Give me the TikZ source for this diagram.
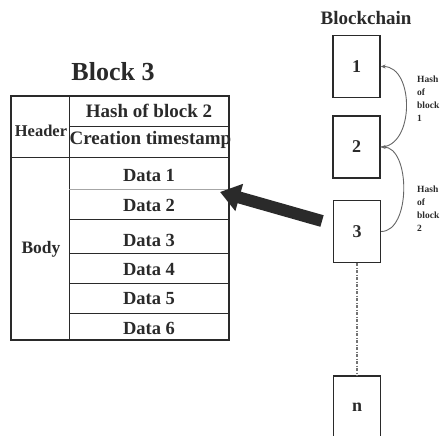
\documentclass[tikz,border=0pt]{standalone}
\usepackage{fontspec}
\setmainfont{Liberation Serif}
\usetikzlibrary{arrows.meta}
\definecolor{ink}{HTML}{2A2A2A}
\begin{document}
\begin{tikzpicture}[x=1pt,y=-1pt,
    cell/.style={font=\bfseries\fontsize{18.5}{20}\selectfont,text=ink,inner sep=0pt},
    blk/.style={draw=ink,line width=1.3pt,minimum width=47pt,minimum height=62pt,
      font=\bfseries\fontsize{18}{20}\selectfont,text=ink},
    hashlbl/.style={font=\bfseries\fontsize{9.5}{13}\selectfont,text=ink,align=left,
      anchor=north west,inner sep=0pt},
    link/.style={draw=black!60,line width=0.9pt,-{Stealth[length=5pt,width=4pt]}}]
  \clip (0,0) rectangle (443,435);
  % block 3
  \node[cell,font=\bfseries\fontsize{26}{28}\selectfont] (title) at (113,72) {Block 3};
  \draw[ink,line width=1.3pt] (11,96) rectangle (229,340);
  \draw[ink,line width=0.9pt] (69,96) -- (69,340);
  \draw[ink,line width=0.9pt] (11,157) -- (229,157);
  \draw[ink,line width=0.9pt] (69,126) -- (229,126);
  \draw[gray!70,line width=0.6pt] (69,189) -- (229,189);
  \foreach \y in {219,253,283,313}
    \draw[ink,line width=0.9pt] (69,\y) -- (229,\y);
  \node[cell,font=\bfseries\fontsize{16.5}{18}\selectfont] (header) at (41,131) {Header};
  \node[cell,font=\bfseries\fontsize{17.5}{18}\selectfont] (body) at (41,249) {Body};
  \node[cell,font=\bfseries\fontsize{19}{20}\selectfont] (hash) at (149,111) {Hash of block 2};
  \node[cell,font=\bfseries\fontsize{19}{20}\selectfont] (time) at (150.5,140) {Creation timestamp};
  \node[cell] (d1) at (149,175) {Data 1};
  \node[cell] (d2) at (149,205) {Data 2};
  \node[cell] (d3) at (149,240) {Data 3};
  \node[cell] (d4) at (149,270) {Data 4};
  \node[cell] (d5) at (149,299) {Data 5};
  \node[cell] (d6) at (149,328) {Data 6};
  % blockchain
  \node[cell,font=\bfseries\fontsize{19}{20}\selectfont] (chain) at (366,18) {Blockchain};
  \node[blk] (b1) at (356.5,66.5) {1};
  \node[blk] (b2) at (356.5,147) {2};
  \node[blk] (b3) at (357,231.5) {3};
  \node[blk] (bn) at (357,407) {n};
  \draw[link] (b2.east) .. controls +(34,0) and +(34,0) .. (b1.east);
  \draw[link] (b3.east) .. controls +(30,0) and +(30,0) .. (b2.east);
  \node[hashlbl] (h1) at (417,76) {Hash\\of\\block\\1};
  \node[hashlbl] (h2) at (417,186) {Hash\\of\\block\\2};
  \draw[black!55,line width=1.1pt,dash pattern=on 3pt off 1.5pt on 1pt off 1.5pt] (b3.south) -- (bn.north);
  % pointer into the block
  \coordinate (tail) at (322,221);
  \coordinate (tip) at (220,192);
  \draw[ink,line width=12pt,-{Triangle[length=20pt,width=27pt]}] (tail) -- (tip);
\end{tikzpicture}
\end{document}
